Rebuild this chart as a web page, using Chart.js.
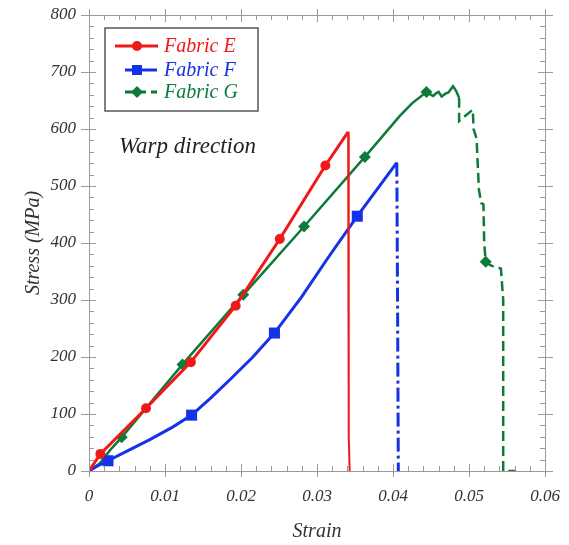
<!DOCTYPE html>
<html lang="en">
<head>
  <meta charset="UTF-8">
  <title>Warp direction – stress vs strain</title>
  <style>
    html, body {
      margin: 0;
      padding: 0;
      background: #ffffff;
    }
    #wrap {
      width: 569px;
      height: 545px;
    }
  </style>
</head>
<body>
  <div id="wrap">
    <canvas id="stressChart" width="569" height="545"></canvas>
  </div>

  <script src="https://cdn.jsdelivr.net/npm/chart.js"></script>
  <script>
    // Fabric E
    const eStrain = [0, 0.0015, 0.0075, 0.0134, 0.0193, 0.0251, 0.0311, 0.0341, 0.03415, 0.0342, 0.0343];
    const eStress = [0, 30, 110, 191, 290, 407, 536, 595, 300, 60, 0];
    const eMarks = [1, 2, 3, 4, 5, 6];

    // Fabric F
    const fStrain = [0, 0.0010, 0.0025, 0.0050, 0.0080, 0.0110, 0.0135, 0.0160, 0.0186, 0.0215,
                     0.0244, 0.0280, 0.0315, 0.0353, 0.0405, 0.0406, 0.0407];
    const fStress = [0, 8, 18, 35, 55, 77, 98, 128, 161, 199,
                     242, 306, 375, 447, 541, 300, 0];
    const fMarks = [2, 6, 10, 13];
    const fBreak = 14;   // dash-dot from here on

    // Fabric G
    const gStrain = [0, 0.0014, 0.0028, 0.0043, 0.0123, 0.0203, 0.0283, 0.0363, 0.0409, 0.0425,
                     0.0444, 0.0450, 0.0453, 0.0457, 0.0460, 0.0464, 0.0469, 0.0473, 0.0479, 0.0483,
                     0.0487, 0.0487, 0.0505, 0.0506, 0.0510, 0.0513, 0.0516, 0.0519, 0.0520, 0.0522,
                     0.0527, 0.0533, 0.0538, 0.0542, 0.0545, 0.0545, 0.0562];
    const gStress = [0, 13, 37, 59, 187, 309, 429, 551, 623, 645,
                     665, 660, 658, 663, 665, 657, 662, 664, 675, 667,
                     655, 614, 634, 600, 583, 494, 470, 468, 400, 367,
                     362, 358, 357, 355, 300, 0, 0];
    const gMarks = [3, 4, 5, 6, 7, 10, 29];
    const gBreak = 20;   // dashed from here on

    const xTicks = [0, 0.01, 0.02, 0.03, 0.04, 0.05, 0.06];
    const yTicks = [0, 100, 200, 300, 400, 500, 600, 700, 800];

    const RED = '#f21818';
    const BLUE = '#1432e6';
    const GREEN = '#0e7a3a';
    const SERIF = "'Liberation Serif', 'Times New Roman', serif";

    const pts = (xs, ys) => xs.map((x, i) => ({ x: x, y: ys[i] }));

    // frame with ticks on all four sides (major ones cross the edge, minor ones point inward)
    const framePlugin = {
      id: 'frame',
      afterDraw(chart) {
        const { ctx, chartArea: a, scales: { x, y } } = chart;
        ctx.save();
        ctx.strokeStyle = '#9a9a9a';
        ctx.lineWidth = 1;
        ctx.strokeRect(a.left + 0.5, a.top + 0.5, a.right - a.left, a.bottom - a.top);
        ctx.beginPath();
        for (let i = 0; i <= 30; i++) {
          const px = Math.round(x.getPixelForValue(i * 0.002)) + 0.5;
          const major = i % 5 === 0;
          ctx.moveTo(px, a.bottom + (major ? 6 : 0));
          ctx.lineTo(px, a.bottom - (major ? 7 : 5));
          ctx.moveTo(px, a.top - (major ? 6 : 0));
          ctx.lineTo(px, a.top + (major ? 7 : 5));
        }
        for (let i = 0; i <= 40; i++) {
          const py = Math.round(y.getPixelForValue(i * 20)) + 0.5;
          const major = i % 5 === 0;
          ctx.moveTo(a.left - (major ? 8 : 0), py);
          ctx.lineTo(a.left + (major ? 7 : 5), py);
          ctx.moveTo(a.right + (major ? 8 : 0), py);
          ctx.lineTo(a.right - (major ? 7 : 5), py);
        }
        ctx.stroke();

        ctx.fillStyle = '#222';
        ctx.font = 'italic 23px ' + SERIF;
        ctx.textAlign = 'left';
        ctx.textBaseline = 'alphabetic';
        ctx.fillText('Warp direction', 119, 153);
        ctx.restore();
      }
    };

    // boxed legend: line sample with its marker, then the name
    const legendPlugin = {
      id: 'boxLegend',
      afterDraw(chart) {
        const ctx = chart.ctx;
        const rows = [
          { name: 'Fabric E', color: RED, y: 46, from: 115, to: 158, dash: [], shape: 'circle' },
          { name: 'Fabric F', color: BLUE, y: 70, from: 125, to: 157, dash: [], shape: 'rect' },
          { name: 'Fabric G', color: GREEN, y: 92, from: 125, to: 157, dash: [8, 5], shape: 'diamond' }
        ];
        ctx.save();
        ctx.fillStyle = '#ffffff';
        ctx.fillRect(105, 28, 153, 83);
        ctx.strokeStyle = '#555';
        ctx.lineWidth = 1.5;
        ctx.strokeRect(105, 28, 153, 83);
        rows.forEach(r => {
          ctx.strokeStyle = r.color;
          ctx.fillStyle = r.color;
          ctx.lineWidth = 3;
          ctx.setLineDash(r.dash);
          ctx.beginPath();
          ctx.moveTo(r.from, r.y);
          ctx.lineTo(r.to, r.y);
          ctx.stroke();
          ctx.setLineDash([]);
          ctx.beginPath();
          if (r.shape === 'circle') {
            ctx.arc(137, r.y, 5, 0, Math.PI * 2);
          } else if (r.shape === 'rect') {
            ctx.rect(132, r.y - 5, 10, 10);
          } else {
            ctx.moveTo(137, r.y - 6);
            ctx.lineTo(143, r.y);
            ctx.lineTo(137, r.y + 6);
            ctx.lineTo(131, r.y);
            ctx.closePath();
          }
          ctx.fill();
          ctx.font = 'italic 20px ' + SERIF;
          ctx.textAlign = 'left';
          ctx.textBaseline = 'middle';
          ctx.fillText(r.name, 164, r.y + 1);
        });
        ctx.restore();
      }
    };

    const marker = (list, r) => ctx => list.includes(ctx.dataIndex) ? r : 0;

    // a zero-gap dash on the dataset keeps Chart.js off its fast path,
    // so dashed vertical drops keep their gaps
    const SOLID = [1000, 0];

    new Chart(document.getElementById('stressChart'), {
      type: 'line',
      data: {
        datasets: [
          {
            label: 'Fabric E',
            data: pts(eStrain, eStress),
            borderColor: RED,
            backgroundColor: RED,
            borderWidth: 3,
            pointStyle: 'circle',
            pointRadius: marker(eMarks, 5),
            pointBorderWidth: 0,
            segment: {
              borderWidth: c => c.p0DataIndex >= 7 ? 2 : 3
            }
          },
          {
            label: 'Fabric F',
            data: pts(fStrain, fStress),
            borderColor: BLUE,
            backgroundColor: BLUE,
            borderWidth: 3,
            borderDash: SOLID,
            pointStyle: 'rect',
            pointRadius: marker(fMarks, 7.8),
            pointBorderWidth: 0,
            segment: {
              borderDash: c => c.p0DataIndex >= fBreak ? [14, 4, 3, 4] : []
            }
          },
          {
            label: 'Fabric G',
            data: pts(gStrain, gStress),
            borderColor: GREEN,
            backgroundColor: GREEN,
            borderWidth: 2.5,
            borderDash: SOLID,
            pointStyle: 'rectRot',
            pointRadius: marker(gMarks, 6),
            pointBorderWidth: 0,
            segment: {
              borderDash: c => c.p0DataIndex >= gBreak ? [10, 5] : []
            }
          }
        ]
      },
      options: {
        responsive: false,
        animation: false,
        events: [],
        layout: { padding: { top: 15, right: 24, left: 0, bottom: 0 } },
        plugins: {
          legend: { display: false },
          tooltip: { enabled: false }
        },
        scales: {
          x: {
            type: 'linear',
            min: 0,
            max: 0.06,
            afterFit: s => { s.height = 74; s.paddingLeft = 0; s.paddingRight = 0; },
            afterBuildTicks: s => { s.ticks = xTicks.map(v => ({ value: v })); },
            grid: { display: false, drawTicks: false },
            border: { display: false },
            ticks: {
              padding: 15,
              maxRotation: 0,
              color: '#333',
              font: { family: SERIF, style: 'italic', size: 17 },
              callback: v => String(+v.toFixed(2))
            },
            title: {
              display: true,
              text: 'Strain',
              color: '#333',
              padding: { top: 0, bottom: 1 },
              font: { family: SERIF, style: 'italic', size: 20 }
            }
          },
          y: {
            min: 0,
            max: 800,
            afterFit: s => { s.width = 89; s.paddingTop = 0; s.paddingBottom = 0; },
            afterBuildTicks: s => { s.ticks = yTicks.map(v => ({ value: v })); },
            grid: { display: false, drawTicks: false },
            border: { display: false },
            ticks: {
              padding: 13,
              color: '#333',
              font: { family: SERIF, style: 'italic', size: 17 }
            },
            title: {
              display: true,
              text: 'Stress (MPa)',
              color: '#333',
              padding: { top: 22, bottom: 0 },
              font: { family: SERIF, style: 'italic', size: 20 }
            }
          }
        }
      },
      plugins: [framePlugin, legendPlugin]
    });
  </script>
</body>
</html>
